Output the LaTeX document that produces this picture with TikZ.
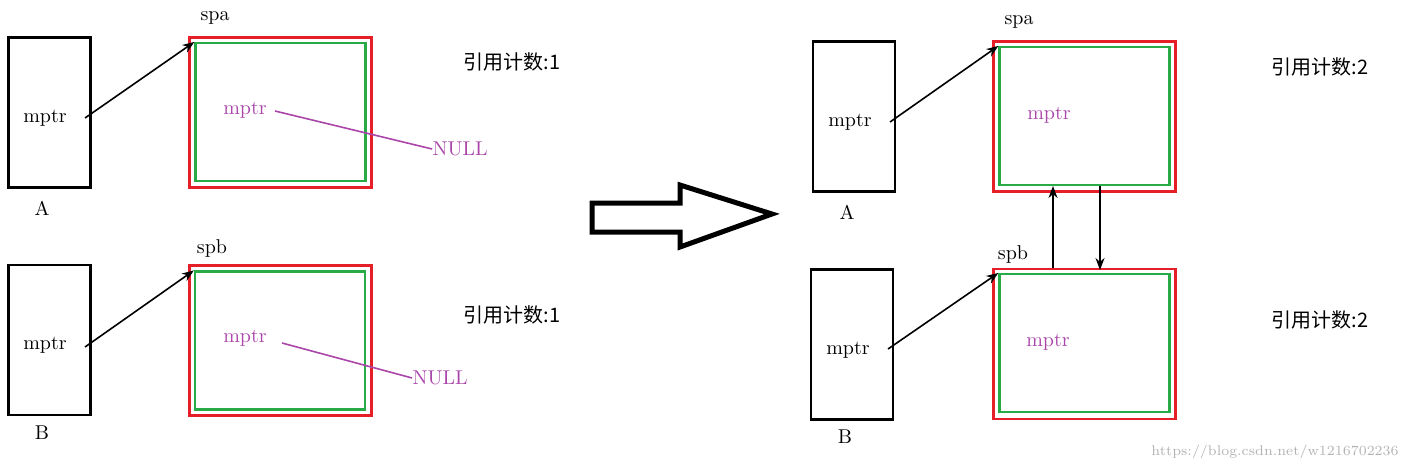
\documentclass[tikz,border=0pt]{standalone}
\usepackage{fontspec}
\newfontfamily\cjk{Noto Sans CJK SC}
\usetikzlibrary{arrows.meta}
\usetikzlibrary{positioning}
\definecolor{objred}{RGB}{230,30,40}
\definecolor{objgreen}{RGB}{40,170,70}
\definecolor{ptrpurple}{RGB}{170,70,170}
\begin{document}
\begin{tikzpicture}[x=0.5pt,y=-0.5pt,
					holder/.style={draw=black, line width=1.2pt, minimum width=41pt, minimum height=75pt, inner sep=0pt},
					outerbox/.style={draw=objred, line width=1.1pt, minimum width=91pt, minimum height=75pt, inner sep=0pt},
					innerbox/.style={draw=objgreen, line width=1.1pt, minimum width=85pt, minimum height=69pt, inner sep=0pt},
					txt/.style={font=\fontsize{10}{12}\selectfont, inner sep=0pt},
					ptr/.style={txt, text=ptrpurple},
					arrow/.style={thick, -{Stealth[length=6pt]}},
					nullline/.style={ptrpurple, thick},
				]
			        \useasboundingbox (0,0) rectangle (1409,468);
			        % left side
			        \node[holder] (ha) at (49.5,112.5) {};
			        \node[txt] (hamp) at (45,118) {mptr};
			        \node[txt] at (42,208) {A};
			        \node[outerbox] (spa) at (280.5,112.5) {};
			        \node[innerbox] (spain) at (280.5,112) {};
			        \node[txt] at (215,18) {spa};
			        \node[ptr] (spamp) at (245,110) {mptr};
			        \node[ptr] (spanull) at (460,149) {NULL};
			        \draw[nullline] (275,111) -- (spanull.west);
			        \draw[arrow] (85,118) -- (spain.north west);
			        \node[txt] at (512,62) {\cjk 引用计数:1};

			        \node[holder] (hb) at (49.5,340) {};
			        \node[txt] (hbmp) at (45,345) {mptr};
			        \node[txt] at (42,433) {B};
			        \node[outerbox] (spb) at (280.5,340.5) {};
			        \node[innerbox] (spbin) at (280,340.5) {};
			        \node[txt] at (212,248) {spb};
			        \node[ptr] (spbmp) at (245,338) {mptr};
			        \node[ptr] (spbnull) at (440,378) {NULL};
			        \draw[nullline] (282,343) -- (spbnull.west);
			        \draw[arrow] (85,347) -- (spbin.north west);
			        \node[txt] at (512,315) {\cjk 引用计数:1};

			        % big arrow
			        \draw[line width=2.5pt, line join=miter] (592,203) -- (680,203) -- (680,185) -- (772,214) -- (680,247) -- (680,232) -- (592,232) -- cycle;

			        % right side
			        \node[holder] (ra) at (854,116.5) {};
			        \node[txt] at (850,122) {mptr};
			        \node[txt] at (847,212) {A};
			        \node[outerbox] (rspa) at (1084.5,116.5) {};
			        \node[innerbox] (rspain) at (1084.5,116) {};
			        \node[txt] at (1019,22) {spa};
			        \node[ptr] at (1049,115) {mptr};
			        \draw[arrow] (890,122) -- (rspain.north west);
			        \node[txt] at (1320,67) {\cjk 引用计数:2};

			        \node[holder] (rb) at (852,344.5) {};
			        \node[txt] at (848,350) {mptr};
			        \node[txt] at (845,437) {B};
			        \node[outerbox] (rspb) at (1084.5,344) {};
			        \node[innerbox] (rspbin) at (1084.5,343) {};
			        \node[txt] at (1013,254) {spb};
			        \node[ptr] at (1048,342) {mptr};
			        \draw[arrow] (888,349) -- (rspbin.north west);
			        \node[txt] at (1320,320) {\cjk 引用计数:2};

			        \coordinate (up0) at (1053,268);
			        \coordinate (up1) at (1053,186);
			        \coordinate (dn0) at (1100,186);
			        \coordinate (dn1) at (1100,270);
			        \draw[arrow] (up0) -- (up1);
			        \draw[arrow] (dn0) -- (dn1);

			        \node[txt, text=black!30, font=\fontsize{7}{8}\selectfont] at (1275,452) {https://blog.csdn.net/w1216702236};
			    \end{tikzpicture}
\end{document}
